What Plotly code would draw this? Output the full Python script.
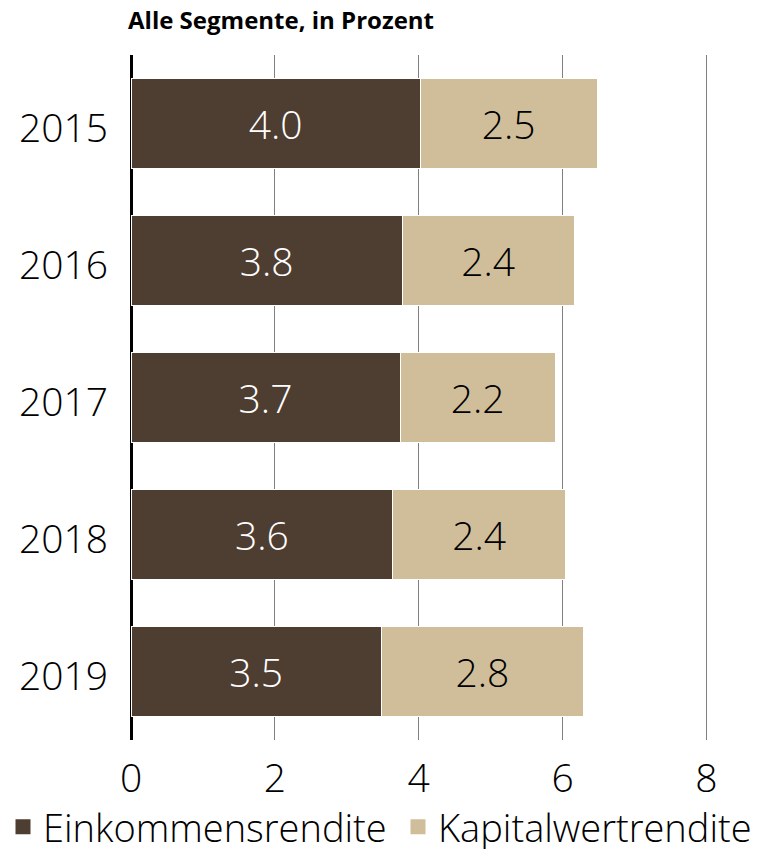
import plotly.graph_objects as go

years = ["2015", "2016", "2017", "2018", "2019"]
einkommen = [4.02, 3.77, 3.74, 3.64, 3.48]
kapital = [2.46, 2.39, 2.16, 2.40, 2.81]
einkommen_labels = ["4.0", "3.8", "3.7", "3.6", "3.5"]
kapital_labels = ["2.5", "2.4", "2.2", "2.4", "2.8"]
x_ticks = [0, 2, 4, 6, 8]
series_names = ["Einkommensrendite", "Kapitalwertrendite"]

FONT = "Open Sans"
DARK = "#4E3D31"
LIGHT = "#D0BE9B"

# the page body adds an 8px offset; figure coordinates are shifted to compensate
ML, MT, PW, PH = 123, 47, 579, 685

fig = go.Figure()
fig.add_trace(go.Bar(
    name=series_names[0], y=years, x=einkommen, orientation="h",
    marker=dict(color=DARK, line=dict(color="white", width=1)),
    text=einkommen_labels, textposition="inside", insidetextanchor="middle",
    textfont=dict(family=FONT, size=39, color="white", weight=300),
    constraintext="none", hoverinfo="skip", showlegend=False,
))
fig.add_trace(go.Bar(
    name=series_names[1], y=years, x=kapital, orientation="h",
    marker=dict(color=LIGHT, line=dict(color="white", width=1)),
    text=kapital_labels, textposition="inside", insidetextanchor="middle",
    textfont=dict(family=FONT, size=39, color="black", weight=300),
    constraintext="none", hoverinfo="skip", showlegend=False,
))
# legend entries (larger square swatches, as in the original)
for name, col, lg in zip(series_names, [DARK, LIGHT], ["legend", "legend2"]):
    fig.add_trace(go.Scatter(
        name=name, x=[None], y=[None], mode="markers",
        marker=dict(symbol="square", size=15, color=col, line=dict(width=0)),
        hoverinfo="skip", showlegend=True, legend=lg,
    ))

legend_common = dict(xref="paper", yref="paper", y=-(819 - (MT + PH)) / PH,
                     xanchor="left", yanchor="middle",
                     font=dict(family=FONT, size=38, weight=300, color="black"),
                     bgcolor="rgba(0,0,0,0)", borderwidth=0)

fig.update_layout(
    barmode="stack",
    bargap=0.343,
    width=760, height=849,
    margin=dict(l=ML, r=760 - ML - PW, t=MT, b=849 - MT - PH, autoexpand=False),
    paper_bgcolor="white", plot_bgcolor="white",
    font=dict(family=FONT, size=36, color="black", weight=300),
    title=dict(text="<b>Alle Segmente, in Prozent</b>", x=120 / 760, xref="container", xanchor="left",
               y=1, yref="container", yanchor="top", pad=dict(t=4),
               font=dict(family=FONT, size=24, color="black")),
    showlegend=True,
    legend=dict(x=(-5 - ML) / PW, **legend_common),
    legend2=dict(x=(390 - ML) / PW, **legend_common),
    xaxis=dict(range=[0, 8.05], tickvals=x_ticks, ticktext=[str(v) for v in x_ticks],
               showgrid=True, gridcolor="#808080", gridwidth=1,
               zeroline=True, zerolinecolor="black", zerolinewidth=3,
               showline=False, ticks="", ticklabelstandoff=12,
               tickfont=dict(family=FONT, size=39, weight=300)),
    yaxis=dict(type="category", categoryarray=years, autorange="reversed",
               showgrid=False, zeroline=False, showline=False, ticks="",
               ticklabelstandoff=22, ticklabelshift=-5,
               tickfont=dict(family=FONT, size=39, weight=300)),
)

fig.write_html("out.html")
